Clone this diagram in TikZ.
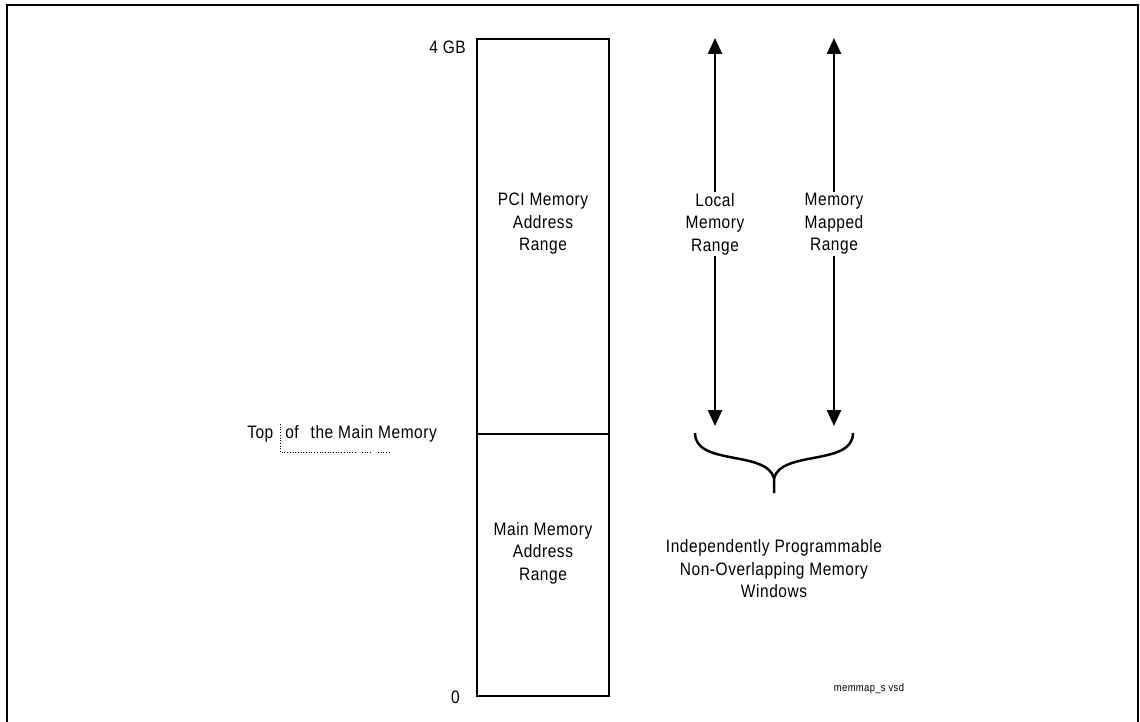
\documentclass[tikz,border=0pt]{standalone}
\usepackage{fontspec}
\setmainfont{Liberation Sans}[FakeStretch=0.86,LetterSpace=3]
\usetikzlibrary{arrows.meta}
\tikzset{
  txt/.style={font=\fontsize{18}{22.5}\selectfont, align=center, inner sep=1pt},
  rangearrow/.style={line width=2.5pt, -{Triangle[length=16pt,width=14pt]}},
}
\begin{document}
\begin{tikzpicture}[x=1pt,y=-1pt]
  \useasboundingbox (0,0) rectangle (1140,722);
  \begin{scope}
    \clip (0,0) rectangle (1140,722);
    \draw[line width=2.5pt] (7,5) rectangle (1138,760);
  \end{scope}
  % memory column
  \draw[line width=2.5pt] (477,39) rectangle (609,696);
  \draw[line width=2.5pt] (477,434) -- (609,434);
  \node[txt, anchor=east] (topgb) at (467,47) {4 GB};
  \node[txt, anchor=east] (zero) at (461,697) {0};
  \node[txt] (pci) at (543,224) {PCI Memory\\Address\\Range};
  \node[txt] (mainmem) at (543,553) {Main Memory\\Address\\Range};
  \node[txt, anchor=east] (topmain) at (438,434) {Top\hspace{12pt}of\hspace{12pt}the Main Memory};
  \draw[dotted, line width=0.7pt] (280,424) -- (280,452) -- (356,452);
  \draw[dotted, line width=0.7pt] (362,452) -- (372,452);
  \draw[dotted, line width=0.7pt] (378,452) -- (390,452);
  % the two windows
  \node[txt, fill=white] (local) at (715,224) {Local\\Memory\\Range};
  \node[txt, fill=white] (mapped) at (834,224) {Memory\\Mapped\\Range};
  \coordinate (localtop) at (715,38);
  \coordinate (localbot) at (715,426);
  \coordinate (mappedtop) at (834,38);
  \coordinate (mappedbot) at (834,426);
  \draw[rangearrow] (local) -- (localtop);
  \draw[rangearrow] (local) -- (localbot);
  \draw[rangearrow] (mapped) -- (mappedtop);
  \draw[rangearrow] (mapped) -- (mappedbot);
  % brace
  \draw[line width=2.5pt] (695,433) .. controls (695,466) and (766,450) .. (774,478) -- (774,493);
  \draw[line width=2.5pt] (853,433) .. controls (853,466) and (782,450) .. (774,478);
  \node[txt] (windows) at (774,569) {Independently Programmable\\Non-Overlapping Memory\\Windows};
  \node[font=\fontsize{11}{12}\selectfont] (tag) at (869,689) {memmap\_s vsd};
\end{tikzpicture}
\end{document}
